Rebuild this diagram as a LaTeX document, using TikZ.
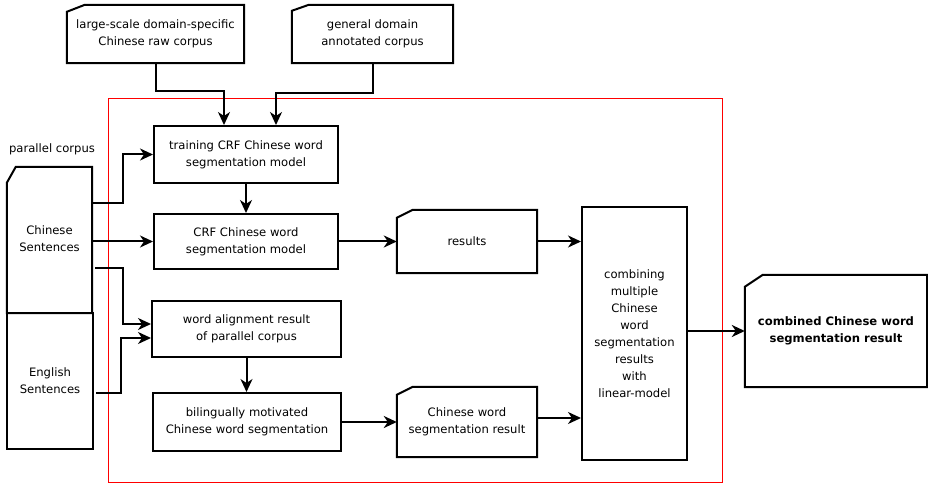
\documentclass[tikz,border=0pt]{standalone}
\usepackage{fontspec}
\setmainfont{DejaVu Sans}
\usetikzlibrary{arrows.meta}
\begin{document}
\begin{tikzpicture}[x=1pt,y=-1pt,
  every node/.style={font=\fontsize{11.6}{17}\selectfont, align=center, inner sep=0pt},
  box/.style={draw=black, line width=2pt, minimum width=#1},
  plain/.style={draw=none, minimum width=#1},
  outline/.style={draw=black, line width=2pt, line join=miter},
  arr/.style={draw=black, line width=2pt, -{Stealth[length=13pt,width=12pt,inset=4pt]}}
]
\useasboundingbox (0,0) rectangle (928,486);

% red frame around the processing stage
\draw[red, line width=1pt] (108.5,98.5) rectangle (722.5,482.5);

% input corpora (chamfered outlines drawn below)
\node[plain=177, minimum height=58] (top1) at (155.5,34) {large-scale domain-specific\\Chinese raw corpus};
\node[plain=161, minimum height=58] (top2) at (372.5,34) {general domain\\annotated corpus};

% parallel corpus
\node (pclabel) at (52,149) {parallel corpus};
\node[plain=85, minimum height=146] (chinese) at (49.5,240) {\raisebox{-5pt}{\begin{tabular}{@{}c@{}}Chinese\\Sentences\end{tabular}}};
\node[box=86, minimum height=136] (english) at (50,381) {English\\Sentences};

% processing steps
\node[box=184, minimum height=57] (train) at (246,154.5) {training CRF Chinese word\\segmentation model};
\node[box=184, minimum height=55] (crf) at (246,241.5) {CRF Chinese word\\segmentation model};
\node[box=189, minimum height=56] (align) at (246.5,329) {word alignment result\\of parallel corpus};
\node[box=188, minimum height=58] (biling) at (247,422) {bilingually motivated\\Chinese word segmentation};

% intermediate results
\node[plain=140, minimum height=63] (results) at (467,241.5) {results};
\node[plain=140, minimum height=70] (cwsres) at (467,422) {Chinese word\\segmentation result};

% combination and final output
\node[box=105, minimum height=253] (combine) at (634.5,333.5) {combining\\multiple\\Chinese\\word\\segmentation\\results\\with\\linear-model};
\node[plain=182, minimum height=112, font=\fontsize{11.6}{17}\selectfont\bfseries] (output) at (836,331) {combined Chinese word\\segmentation result};

% chamfered outlines of the data shapes
\foreach \n/\dx/\dy in {top1/18/7, top2/17/6, results/16/8, cwsres/16/8, output/18/12, chinese/9/16}
  \draw[outline] ([yshift=-\dy pt]\n.north west) -- ([xshift=\dx pt]\n.north west)
     -- (\n.north east) -- (\n.south east) -- (\n.south west) -- cycle;

% connectors
\draw[arr] (top1.south) -- ++(0,28) -| ([xshift=-22pt]train.north);
\draw[arr] (top2.south) -- ++(0,30) -| ([xshift=30pt]train.north);
\draw[arr] ([yshift=37pt]chinese.east) -- ++(31,0) |- (train.west);
\draw[arr] (chinese.east |- crf.west) -- (crf.west);
\draw[arr] ([xshift=3pt,yshift=-28pt]chinese.east) -- ++(28,0) |- ([yshift=5pt]align.west);
\draw[arr] ([xshift=2pt,yshift=-12pt]english.east) -- ++(25,0) |- ([yshift=-9pt]align.west);
\draw[arr] (train.south) -- (crf.north);
\draw[arr] (align.south) -- (align.south |- biling.north);
\draw[arr] (crf.east) -- (results.west);
\draw[arr] (biling.east) -- (cwsres.west);
\draw[arr] (results.east) -- (combine.west |- results.east);
\draw[arr] ([yshift=4pt]cwsres.east) -- ([yshift=4pt]combine.west |- cwsres.east);
\draw[arr] (combine.east |- output.west) -- (output.west);
\end{tikzpicture}
\end{document}
